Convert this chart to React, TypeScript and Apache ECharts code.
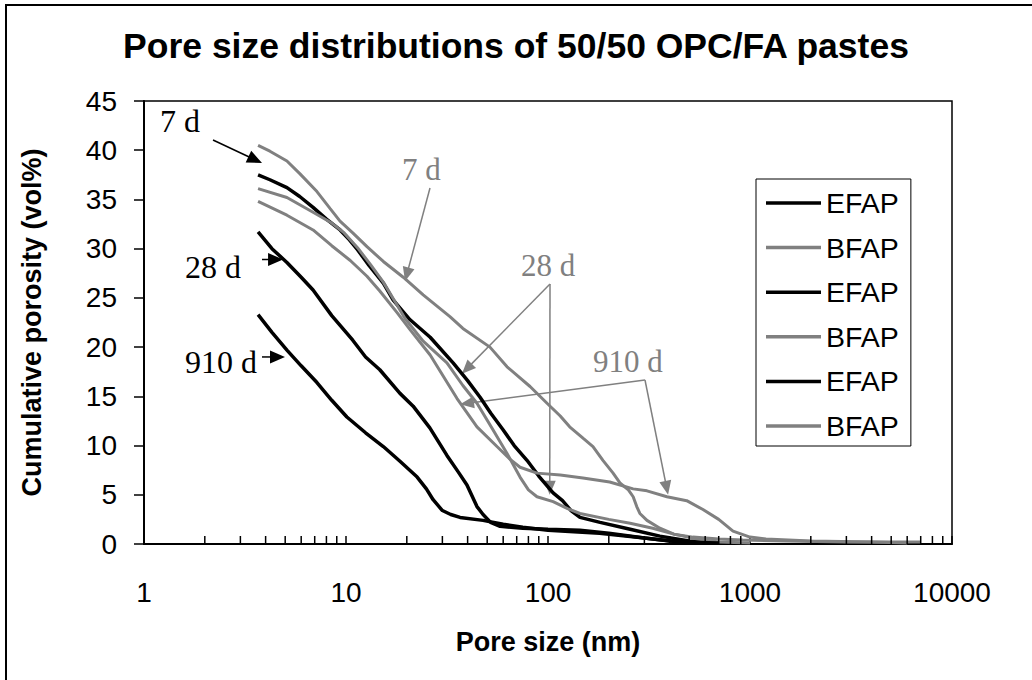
import React, { useEffect, useRef } from "react";
import * as echarts from "echarts";

// ---- data: [pore size (nm), cumulative porosity (vol%)] ----
const efap7d: number[][] = [
  [3.67, 37.5], [4.2, 37.0], [5.1, 36.2], [5.9, 35.3], [6.87, 34.2], [8.0, 33.0], [9.35, 31.9],
  [10.4, 30.9], [11.4, 29.9], [13.0, 28.3], [15.3, 26.5], [17.1, 24.8], [20.7, 22.8], [26.1, 21.0],
  [33.9, 18.4], [40, 16.6], [46.1, 14.9], [52, 13.3], [59.9, 11.6], [68, 10.0], [78.7, 8.5],
  [90, 6.9], [106, 5.2], [118, 4.4], [130, 3.4], [144, 2.7], [181, 2.2], [255, 1.5], [358, 0.8],
  [500, 0.3], [700, 0.1],
];
const bfap7d: number[][] = [
  [3.67, 40.5], [4.2, 39.9], [5.1, 38.9], [5.92, 37.6], [7.18, 35.8], [8.33, 34.1], [9.34, 32.8],
  [10.8, 31.6], [12.7, 30.2], [15.3, 28.7], [19.2, 27.1], [24.1, 25.3], [32.7, 23.1], [37.9, 21.9],
  [51.6, 20.0], [62.7, 18.0], [81.5, 16.0], [98.9, 14.3], [115, 13.0], [128, 11.9], [150, 10.7],
  [167, 9.9], [187, 8.5], [210, 7.2], [227, 6.2], [250, 5.5], [264, 4.8], [275, 3.8], [285, 3.1],
  [309, 2.4], [358, 1.6], [420, 1.0], [522, 0.7], [700, 0.5], [923, 0.4], [1500, 0.3], [3000, 0.2],
  [7000, 0.2],
];
const efap28d: number[][] = [
  [3.67, 31.7], [4.3, 30.0], [5.1, 28.6], [6.0, 27.1], [6.87, 25.8], [8.5, 23.2], [10.8, 20.7],
  [12.5, 19.0], [14.7, 17.7], [18.5, 15.3], [21.5, 14.0], [26, 11.8], [31.6, 9.0], [36, 7.3],
  [39.7, 6.0], [44.5, 3.8], [47.7, 3.0], [52, 2.2], [57.9, 1.8], [75, 1.6], [100, 1.5], [144, 1.4],
  [200, 1.1], [300, 0.6], [400, 0.3], [600, 0.1],
];
const bfap28d: number[][] = [
  [3.67, 36.1], [5.1, 35.2], [6.87, 33.7], [8.5, 32.6], [9.8, 31.6], [11.4, 30.1], [13.2, 28.4],
  [15.3, 26.6], [17.5, 24.6], [19.6, 22.9], [24.1, 20.6], [31.6, 18.4], [37.9, 16.1], [44.5, 14.3],
  [53.4, 11.6], [62.7, 9.2], [72.7, 6.8], [80, 5.5], [88.2, 4.8], [106, 4.3], [125, 3.6], [144, 3.1],
  [200, 2.5], [255, 2.1], [330, 1.6], [420, 1.0], [550, 0.5], [700, 0.2], [1000, 0.1],
];
const efap910d: number[][] = [
  [3.67, 23.3], [4.3, 21.5], [5.1, 19.7], [6.0, 18.1], [7.18, 16.4], [8.5, 14.6], [10.1, 12.9],
  [12.5, 11.3], [15.3, 9.9], [18.5, 8.4], [22.5, 6.8], [25, 5.6], [27, 4.5], [30, 3.4], [33, 3.0],
  [36.7, 2.7], [47.7, 2.4], [60, 2.0], [75, 1.7], [100, 1.4], [180, 1.1], [300, 0.6], [450, 0.2],
  [700, 0.1],
];
const bfap910d: number[][] = [
  [3.67, 34.8], [5.1, 33.4], [6.87, 31.9], [8.5, 30.3], [10.5, 28.8], [12.7, 27.2], [14.7, 25.7],
  [17.9, 23.5], [20.7, 21.8], [26.1, 19.2], [35.4, 14.8], [44.5, 11.9], [55.9, 9.9], [65, 8.6],
  [72.7, 7.8], [88.2, 7.2], [115, 7.0], [149, 6.7], [202, 6.3], [264, 5.6], [309, 5.4], [388, 4.8],
  [486, 4.4], [585, 3.5], [700, 2.5], [824, 1.3], [1000, 0.7], [1200, 0.5], [2000, 0.3], [4000, 0.2],
  [6000, 0.1],
];

const seriesNames = ["EFAP", "BFAP", "EFAP ", "BFAP ", "EFAP  ", "BFAP  "];
const xTickLabels = ["1", "10", "100", "1000", "10000"];
const minorTickValues = [
  2, 3, 4, 5, 6, 7, 8, 9, 20, 30, 40, 50, 60, 70, 80, 90, 200, 300, 400, 500, 600, 700, 800, 900,
  2000, 3000, 4000, 5000, 6000, 7000, 8000, 9000,
];

// annotation anchor points (arrow tips) in data coordinates
const blackLabels = ["7 d", "28 d", "910 d"];
const blackTips: number[][] = [[3.84, 38.7], [4.88, 28.9], [4.99, 19.0]];
const grayLabels = ["7 d", "28 d", "910 d"];
const gray7Tip: number[] = [19.6, 26.7];
const gray28Tips: number[][] = [[37.5, 17.3], [102, 5.0]];
const gray910Tips: number[][] = [[36.7, 14.2], [393, 5.0]];

const BLACK = "#000000";
const GRAY = "#808080";
const SANS = "'Liberation Sans', Arial, sans-serif";
const SERIF = "'Liberation Serif', 'Times New Roman', serif";

function arrow(tail: number[], tip: number[], color: string, lw: number, L: number, W: number) {
  const dx = tip[0] - tail[0];
  const dy = tip[1] - tail[1];
  const len = Math.hypot(dx, dy) || 1;
  const ux = dx / len;
  const uy = dy / len;
  const nx = -uy;
  const ny = ux;
  const bx = tip[0] - ux * L;
  const by = tip[1] - uy * L;
  return [
    { type: "line", silent: true, shape: { x1: tail[0], y1: tail[1], x2: bx + ux * 2, y2: by + uy * 2 }, style: { stroke: color, lineWidth: lw } },
    {
      type: "polygon",
      silent: true,
      shape: { points: [[tip[0], tip[1]], [bx + (nx * W) / 2, by + (ny * W) / 2], [bx - (nx * W) / 2, by - (ny * W) / 2]] },
      style: { fill: color },
    },
  ];
}

function label(text: string, x: number, y: number, color: string, size: number) {
  return {
    type: "text",
    silent: true,
    x,
    y,
    style: { text, fill: color, fontSize: size, fontFamily: SERIF, align: "left", verticalAlign: "middle", textAlign: "left", textVerticalAlign: "middle" },
  };
}

export default function App() {
  const ref = useRef<HTMLDivElement>(null);
  useEffect(() => {
    const chart = echarts.init(ref.current!, null, { renderer: "svg" });
    const lineSeries = (name: string, data: number[][], color: string, width: number) => ({
      type: "line",
      name,
      data,
      symbol: "none",
      showSymbol: false,
      smooth: false,
      legendIcon: "rect",
      lineStyle: { color, width },
      itemStyle: { color },
      z: 3,
    });
    const option: any = {
      animation: false,
      backgroundColor: "#ffffff",
      title: {
        text: "Pore size distributions of 50/50 OPC/FA pastes",
        left: "center",
        top: 23,
        textStyle: { fontSize: 35.5, fontWeight: "bold", fontFamily: SANS, color: BLACK },
      },
      grid: { left: 144, right: 80, top: 101, bottom: 136, show: true, borderColor: BLACK, borderWidth: 1.5, backgroundColor: "transparent" },
      legend: {
        orient: "vertical",
        left: 756,
        top: 179,
        data: seriesNames,
        formatter: (n: string) => n.trim(),
        selectedMode: false,
        icon: "rect",
        itemWidth: 55,
        itemHeight: 3.5,
        itemGap: 14.6,
        padding: [9, 12, 5, 10],
        borderColor: BLACK,
        borderWidth: 1,
        backgroundColor: "#ffffff",
        textStyle: { fontSize: 28.5, fontFamily: SANS, color: BLACK, lineHeight: 30 },
      },
      xAxis: {
        type: "log",
        logBase: 10,
        min: 1,
        max: 10000,
        name: "Pore size (nm)",
        nameLocation: "middle",
        nameGap: 84,
        nameTextStyle: { fontSize: 27, fontWeight: "bold", fontFamily: SANS, color: BLACK },
        axisLine: { show: true, lineStyle: { color: BLACK, width: 2 } },
        axisTick: { show: true, inside: true, length: 8, lineStyle: { color: BLACK, width: 1.5 } },
        axisLabel: {
          fontSize: 28,
          fontFamily: SANS,
          color: BLACK,
          margin: 34,
          formatter: (v: number) => {
            const s = String(Math.round(v));
            return xTickLabels.indexOf(s) >= 0 ? s : "";
          },
        },
        splitLine: { show: false },
        minorTick: { show: false },
      },
      yAxis: {
        type: "value",
        min: 0,
        max: 45,
        interval: 5,
        name: "Cumulative porosity (vol%)",
        nameLocation: "middle",
        nameGap: 99,
        nameTextStyle: { fontSize: 27, fontWeight: "bold", fontFamily: SANS, color: BLACK },
        axisLine: { show: true, lineStyle: { color: BLACK, width: 2 } },
        axisTick: { show: true, inside: false, length: 10, lineStyle: { color: BLACK, width: 1.5 } },
        axisLabel: { fontSize: 28, fontFamily: SANS, color: BLACK, margin: 27 },
        splitLine: { show: false },
      },
      series: [
        lineSeries(seriesNames[0], efap7d, BLACK, 3.5),
        lineSeries(seriesNames[1], bfap7d, GRAY, 3),
        lineSeries(seriesNames[2], efap28d, BLACK, 3.5),
        lineSeries(seriesNames[3], bfap28d, GRAY, 3),
        lineSeries(seriesNames[4], efap910d, BLACK, 3.5),
        lineSeries(seriesNames[5], bfap910d, GRAY, 3),
        {
          type: "custom",
          name: "minorTicks",
          silent: true,
          clip: false,
          data: minorTickValues.map((v) => [v, 0]),
          renderItem: (_p: any, api: any) => {
            const pt = api.coord([api.value(0), 0]);
            return {
              type: "line",
              shape: { x1: pt[0], y1: pt[1], x2: pt[0], y2: pt[1] - 8 },
              style: { stroke: BLACK, lineWidth: 1.5 },
            };
          },
          z: 4,
        },
      ],
    };
    chart.setOption(option);

    const toPx = (p: number[]) => chart.convertToPixel({ gridIndex: 0 }, p) as number[];
    const g: any[] = [];
    g.push({ type: "rect", silent: true, shape: { x: 6, y: 5, width: 1040, height: 700 }, style: { fill: "none", stroke: BLACK, lineWidth: 2 } });
    // black labels
    const blackTextPos = [[160, 121], [185, 267], [185, 362]];
    const blackTails = [[213, 140], [262, -1], [262, -1]];
    blackLabels.forEach((t, i) => {
      g.push(label(t, blackTextPos[i][0], blackTextPos[i][1], BLACK, 32));
      const tip = toPx(blackTips[i]);
      const tail = blackTails[i][1] < 0 ? [blackTails[i][0], tip[1]] : blackTails[i];
      g.push(...arrow(tail, tip, BLACK, 1.5, 15, 13));
    });
    // gray 7 d
    g.push(label(grayLabels[0], 402, 169, GRAY, 31));
    g.push(...arrow([430, 188], toPx(gray7Tip), GRAY, 1.5, 14, 12));
    // gray 28 d
    g.push(label(grayLabels[1], 521, 265, GRAY, 31));
    const apex28 = [550, 284];
    gray28Tips.forEach((t) => g.push(...arrow(apex28, toPx(t), GRAY, 1.5, 14, 12)));
    // gray 910 d
    g.push(label(grayLabels[2], 593, 361, GRAY, 31));
    const apex910 = [645, 380];
    gray910Tips.forEach((t) => g.push(...arrow(apex910, toPx(t), GRAY, 1.5, 14, 12)));

    chart.setOption({ graphic: g });
    return () => chart.dispose();
  }, []);
  return <div ref={ref} style={{ position: "absolute", left: 0, top: 0, width: 1032, height: 680 }} />;
}
